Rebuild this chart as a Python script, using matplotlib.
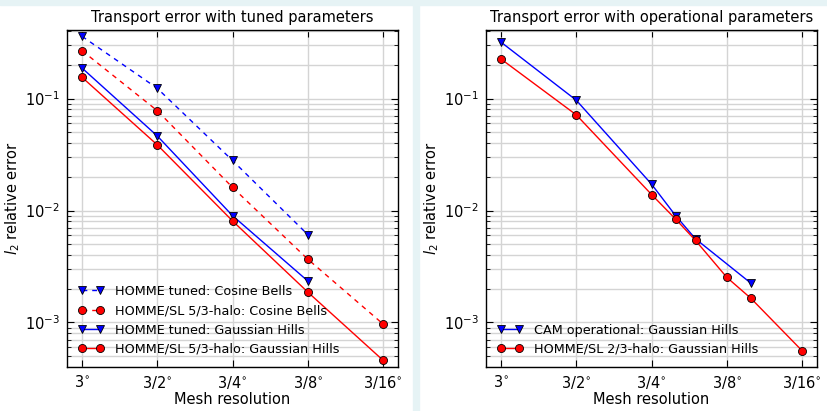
import numpy as np
import matplotlib
matplotlib.use("Agg")
import matplotlib.pyplot as plt
from matplotlib.patches import Rectangle
from matplotlib.ticker import LogLocator, NullFormatter

# resolution labels (3 deg / 2^k), positions given by element count ne
res_labels = ["3", "3/2", "3/4", "3/8", "3/16"]

# left panel: tuned parameters
ne_left = [10, 20, 40, 80, 160]
homme_cb = [0.36, 0.1236, 0.028, 0.0061]
sl53_cb = [0.268, 0.078, 0.0161, 0.00368, 0.00097]
homme_gh = [0.1875, 0.0464, 0.0090, 0.00235]
sl53_gh = [0.155, 0.0386, 0.00808, 0.00187, 0.00046]

# right panel: operational parameters
ne_cam = [10, 20, 40, 50, 60, 100]
cam_gh = [0.319, 0.0966, 0.0172, 0.00896, 0.00558, 0.00224]
ne_sl23 = [10, 20, 40, 50, 60, 80, 100, 160]
sl23_gh = [0.2255, 0.0715, 0.0139, 0.00836, 0.0054, 0.00253, 0.00164, 0.00056]

plt.rcParams['font.family'] = ['DejaVu Sans']
plt.rcParams['font.size'] = 10
plt.rcParams['mathtext.default'] = 'regular'


def xpos(ne):
    return np.log2(np.array(ne) / 10.0)


def style_axes(ax, title):
    ax.set_yscale('log')
    ax.set_xlim(-0.2, 4.2)
    ax.set_ylim(4.0e-4, 0.41)
    ax.set_xticks(range(len(res_labels)))
    ax.set_xticklabels([r"$%s^{\circ}$" % s for s in res_labels])
    ax.yaxis.set_major_locator(LogLocator(base=10))
    ax.yaxis.set_minor_locator(LogLocator(base=10, subs=np.arange(2, 10)))
    ax.yaxis.set_minor_formatter(NullFormatter())
    ax.grid(True, which='major', color='#d4d4d4', lw=1.0)
    ax.grid(True, which='minor', axis='y', color='#d4d4d4', lw=1.0)
    ax.set_axisbelow(True)
    ax.tick_params(which='both', direction='in', top=True, right=True, labelsize=10.5)
    ax.tick_params(which='major', length=5, width=0.8, pad=5)
    ax.tick_params(which='minor', length=3, width=0.6)
    for sp in ax.spines.values():
        sp.set_linewidth(1.0)
    ax.set_title(title, fontsize=10.5, pad=6)
    ax.set_xlabel("Mesh resolution", fontsize=10.5, labelpad=1)
    ax.set_ylabel("$\\mathit{l}_2$ relative error", fontsize=10.5, labelpad=2)


def add_legend(ax):
    ax.legend(loc='lower left', frameon=False, numpoints=2, handlelength=2.0,
              handletextpad=0.9, borderaxespad=0.47, labelspacing=0.5, fontsize=9.2)


fig = plt.figure(figsize=(8.28, 4.11), dpi=100)
fig.patches.append(Rectangle((0, 1 - 5 / 411), 1, 5 / 411, transform=fig.transFigure,
                             color='#e6f3f5', zorder=0))
fig.patches.append(Rectangle((413 / 828, 0), 6 / 828, 1, transform=fig.transFigure,
                             color='#e6f3f5', zorder=0))

ax1 = fig.add_axes([0.0809, 0.107, 0.3998, 0.820])
ax2 = fig.add_axes([0.587, 0.107, 0.3998, 0.820])

mk = dict(ms=5.8, mec='black', mew=0.6, lw=1.0)
dash = (3.5, 3.5)

x = xpos(ne_left)
ax1.plot(x[:4], homme_cb, '--', dashes=dash, color='blue', marker='v', mfc='blue',
         clip_on=False, label='HOMME tuned: Cosine Bells', **mk)
ax1.plot(x, sl53_cb, '--', dashes=dash, color='red', marker='o', mfc='red',
         clip_on=False, label='HOMME/SL 5/3-halo: Cosine Bells', **mk)
ax1.plot(x[:4], homme_gh, '-', color='blue', marker='v', mfc='blue', clip_on=False,
         label='HOMME tuned: Gaussian Hills', **mk)
ax1.plot(x, sl53_gh, '-', color='red', marker='o', mfc='red', clip_on=False,
         label='HOMME/SL 5/3-halo: Gaussian Hills', **mk)
style_axes(ax1, "Transport error with tuned parameters")
add_legend(ax1)

ax2.plot(xpos(ne_cam), cam_gh, '-', color='blue', marker='v', mfc='blue', clip_on=False,
         label='CAM operational: Gaussian Hills', **mk)
ax2.plot(xpos(ne_sl23), sl23_gh, '-', color='red', marker='o', mfc='red', clip_on=False,
         label='HOMME/SL 2/3-halo: Gaussian Hills', **mk)
style_axes(ax2, "Transport error with operational parameters")
add_legend(ax2)

fig.savefig('out.png', dpi=100)
